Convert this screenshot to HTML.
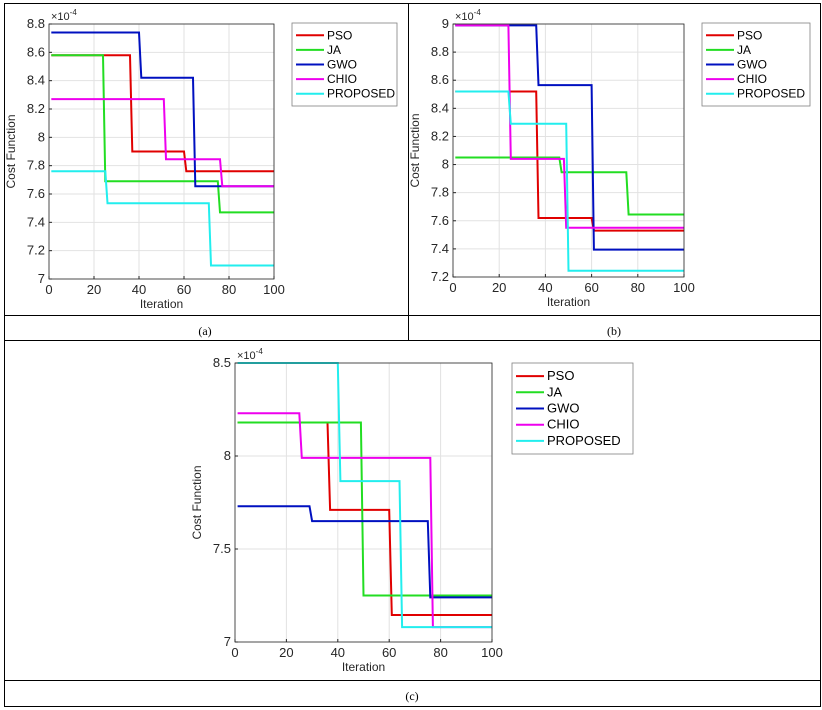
<!DOCTYPE html>
<html><head><meta charset="utf-8"><style>
body{margin:0;background:#fff;}
svg{display:block;font-family:"Liberation Sans",Arial,sans-serif;}
</style></head><body>
<svg id="root" width="822" height="710" viewBox="0 0 822 710">
<g stroke="#000" stroke-width="1" fill="none">
<rect x="4.5" y="3.5" width="816" height="703"/>
<line x1="408.5" y1="3.5" x2="408.5" y2="340.5"/>
<line x1="4" y1="315.5" x2="821" y2="315.5"/>
<line x1="4" y1="340.5" x2="821" y2="340.5"/>
<line x1="4" y1="680.5" x2="821" y2="680.5"/>
</g>
<text x="205" y="335" font-family="Liberation Serif,serif" font-size="12" text-anchor="middle">(a)</text>
<text x="614" y="335" font-family="Liberation Serif,serif" font-size="12" text-anchor="middle">(b)</text>
<text x="412" y="700" font-family="Liberation Serif,serif" font-size="12" text-anchor="middle">(c)</text>
</svg>
<script>
const names=["PSO","JA","GWO","CHIO","PROPOSED"];
const colors=["#e00000","#22dd22","#0010c0","#ee00ee","#22eeee"];
const xTicks=[0,20,40,60,80,100];
// Panel A
const aYTicks=[7,7.2,7.4,7.6,7.8,8,8.2,8.4,8.6,8.8];
const aYTickLabels=["7","7.2","7.4","7.6","7.8","8","8.2","8.4","8.6","8.8"];
const aLevels=[[8.58,7.90,7.76],[8.58,7.69,7.47],[8.74,8.42,7.655],[8.27,7.845,7.655],[7.76,7.535,7.095]];
const aChanges=[[36,60],[24,75],[40,64],[51,76],[25,71]];
// Panel B
const bYTicks=[7.2,7.4,7.6,7.8,8,8.2,8.4,8.6,8.8,9];
const bYTickLabels=["7.2","7.4","7.6","7.8","8","8.2","8.4","8.6","8.8","9"];
const bLevels=[[8.52,7.62,7.53],[8.05,7.945,7.645],[8.99,8.565,7.395],[8.99,8.04,7.55],[8.52,8.29,7.245]];
const bChanges=[[36,60],[46,75],[36,60],[24,48],[24,49]];
// Panel C
const cYTicks=[7,7.5,8,8.5];
const cYTickLabels=["7","7.5","8","8.5"];
const cLevels=[[8.18,7.71,7.145],[8.18,7.25],[7.73,7.65,7.24],[8.23,7.99,7.08],[8.5,7.865,7.08]];
const cChanges=[[36,60],[49],[29,75],[25,76],[40,64]];

const NS="http://www.w3.org/2000/svg";
const root=document.getElementById('root');
function mk(tag,attrs,parent){const e=document.createElementNS(NS,tag);for(const k in attrs)e.setAttribute(k,attrs[k]);parent.appendChild(e);return e;}

function panel(id,box,ymin,ymax,yTicks,yLabels,levels,changes,leg){
  const g=mk('g',{},root);
  
  
  const X=v=>box.x0+(v-0)/(100-0)*(box.x1-box.x0);
  const Y=v=>box.y1-(v-ymin)/(ymax-ymin)*(box.y1-box.y0);
  mk('rect',{x:box.x0,y:box.y0,width:box.x1-box.x0,height:box.y1-box.y0,fill:'#fff'},g);
  const grid=mk('g',{stroke:'#e2e2e2','stroke-width':1},g);
  
  
  xTicks.forEach(t=>mk('line',{x1:X(t),x2:X(t),y1:box.y0,y2:box.y1},grid));
  yTicks.forEach(t=>mk('line',{x1:box.x0,x2:box.x1,y1:Y(t),y2:Y(t)},grid));
  const ax=mk('g',{'font-size':13,fill:'#262626'},g);
  
  
  xTicks.forEach(t=>{const e=mk('text',{x:X(t),y:box.y1+15,'text-anchor':'middle'},ax);e.textContent=t;
    mk('line',{x1:X(t),x2:X(t),y1:box.y1,y2:box.y1-3,stroke:'#262626'},ax);});
  yTicks.forEach((t,i)=>{const e=mk('text',{x:box.x0-4,y:Y(t)+4,'text-anchor':'end'},ax);e.textContent=yLabels[i];
    mk('line',{x1:box.x0,x2:box.x0+3,y1:Y(t),y2:Y(t),stroke:'#262626'},ax);});
  const xl=mk('text',{x:(box.x0+box.x1)/2,y:box.y1+29,'text-anchor':'middle','font-size':12},ax);xl.textContent='Iteration';
  
  const yx=box.x0-34,yy=(box.y0+box.y1)/2;
  const yl=mk('text',{x:yx,y:yy,'text-anchor':'middle','font-size':12,transform:`rotate(-90 ${yx} ${yy})`},ax);yl.textContent='Cost Function';
  
  const ex=mk('text',{x:box.x0+2,y:box.y0-4,'font-size':11},ax);
  ex.innerHTML='\u00d710<tspan dy="-5" font-size="8">-4</tspan>';
  
  levels.forEach((lv,si)=>{
    let pts=[[1,lv[0]]];
    changes[si].forEach((c,k)=>{pts.push([c,lv[k]]);pts.push([c+1,lv[k+1]]);});
    pts.push([100,lv[lv.length-1]]);
    const p=mk('polyline',{points:pts.map(q=>X(q[0]).toFixed(1)+','+Y(q[1]).toFixed(1)).join(' '),fill:'none',stroke:colors[si],'stroke-width':2},g);
    
    
  });
  mk('rect',{x:box.x0,y:box.y0,width:box.x1-box.x0,height:box.y1-box.y0,fill:'none',stroke:'#262626','stroke-width':0.8},g);
  const lg=mk('g',{},g);
  
  
  mk('rect',{x:leg.x,y:leg.y,width:leg.w,height:leg.h,fill:'#fff',stroke:'#808080','stroke-width':0.8},lg);
  const step=(leg.h-10)/5;
  names.forEach((n,i)=>{
    const cy=leg.y+5+step*(i+0.5);
    const en=mk('g',{},lg);
    
    
    mk('line',{x1:leg.x+4,x2:leg.x+32,y1:cy,y2:cy,stroke:colors[i],'stroke-width':2},en);
    const t=mk('text',{x:leg.x+35,y:cy+4,'font-size':leg.fs,fill:'#000'},en);t.textContent=n;
  });
}
panel('a',{x0:49,x1:274,y0:24,y1:279},7,8.8,aYTicks,aYTickLabels,aLevels,aChanges,{x:292,y:23,w:105,h:83,fs:12});
panel('b',{x0:453,x1:684,y0:24,y1:277},7.2,9,bYTicks,bYTickLabels,bLevels,bChanges,{x:702,y:23,w:108,h:83,fs:12});
panel('c',{x0:235,x1:492,y0:363,y1:642},7,8.5,cYTicks,cYTickLabels,cLevels,cChanges,{x:512,y:363,w:121,h:91,fs:13});
</script>
</body></html>
